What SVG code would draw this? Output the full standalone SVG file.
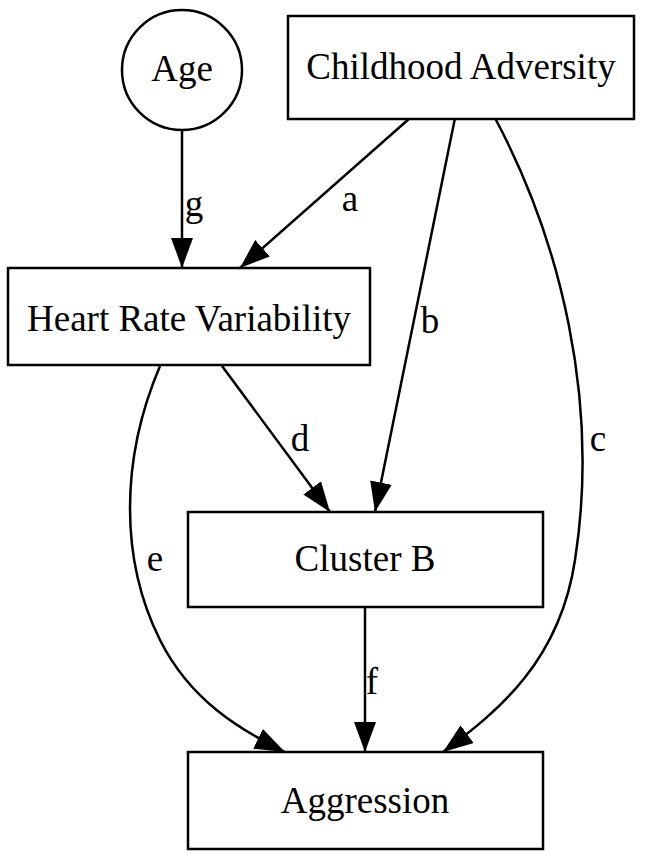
<svg xmlns="http://www.w3.org/2000/svg" width="650" height="860" viewBox="0 0 650 860">
<style>
.node{fill:#fff;stroke:#000;stroke-width:2.5}
.lbl{font-family:"Liberation Serif","Times New Roman",serif;font-size:37px;fill:#000;text-anchor:middle;dominant-baseline:central}
.edge{fill:none;stroke:#000;stroke-width:2.5}
</style>
<defs>
<marker id="arr" viewBox="0 0 30 22" refX="30" refY="11" markerWidth="30" markerHeight="22" markerUnits="userSpaceOnUse" orient="auto">
<path d="M0,0 L30,11 L0,22 Z" fill="#000"/>
</marker>
</defs>
<rect width="650" height="860" fill="#fff"/>
<g id="connectors">
<path class="edge" marker-end="url(#arr)" d="M182,130 L182,268"/>
<text class="lbl" x="194" y="203">g</text>
<path class="edge" marker-end="url(#arr)" d="M410,118 L240,268"/>
<text class="lbl" x="350" y="198">a</text>
<path class="edge" marker-end="url(#arr)" d="M455,118 L375,512"/>
<text class="lbl" x="430" y="320">b</text>
<path class="edge" marker-end="url(#arr)" d="M495,118 C560,240 600,400 575,560 C560,660 500,710 443,752"/>
<text class="lbl" x="598" y="438">c</text>
<path class="edge" marker-end="url(#arr)" d="M222,366 L330,512"/>
<text class="lbl" x="300" y="438">d</text>
<path class="edge" marker-end="url(#arr)" d="M160,366 C120,460 120,560 160,640 C190,700 240,730 285,752"/>
<text class="lbl" x="155" y="558">e</text>
<path class="edge" marker-end="url(#arr)" d="M365,607 L365,752"/>
<text class="lbl" x="372" y="681">f</text>
</g>
<g id="age">
<circle class="node" cx="182" cy="70" r="60"/>
<text class="lbl" x="182" y="68">Age</text>
</g>
<g id="childhood">
<rect class="node" x="288" y="16" width="346" height="103"/>
<text class="lbl" x="461" y="66">Childhood Adversity</text>
</g>
<g id="hrv">
<rect class="node" x="8" y="268" width="362" height="97"/>
<text class="lbl" x="189" y="318">Heart Rate Variability</text>
</g>
<g id="clusterb">
<rect class="node" x="188" y="512" width="355" height="95"/>
<text class="lbl" x="365" y="558">Cluster B</text>
</g>
<g id="aggression">
<rect class="node" x="188" y="752" width="355" height="97"/>
<text class="lbl" x="365" y="800">Aggression</text>
</g>
</svg>
